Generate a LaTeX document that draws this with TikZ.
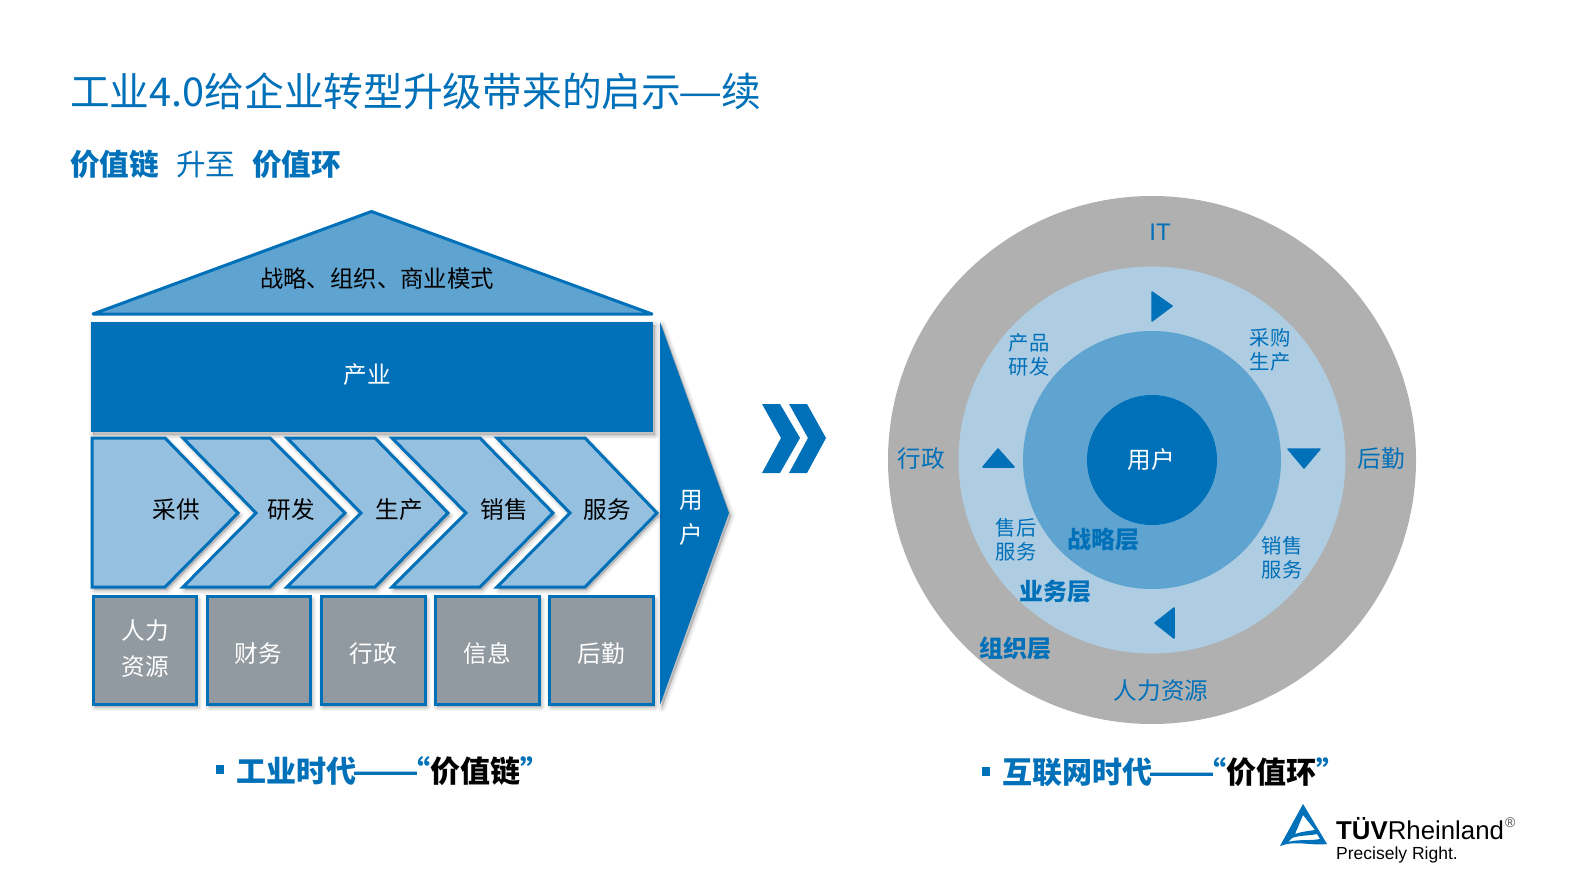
\documentclass[tikz,border=0pt]{standalone}
\usepackage{fontspec}
\usepackage{graphicx}
\setmainfont{Noto Sans CJK SC}
\newfontfamily\lat{Liberation Sans}
\definecolor{tblue}{HTML}{0070B9}
\definecolor{tmid}{HTML}{5FA4D0}
\definecolor{tlight}{HTML}{95C0E0}
\definecolor{tpale}{HTML}{AECDE2}
\definecolor{tgrey}{HTML}{929AA1}
\definecolor{tring}{HTML}{B0B0B0}
\tikzset{
  x=1pt,y=-1pt,
  shadlayer/.style={preaction={draw=black,fill=black,opacity=.045,line width=#1,line join=round,transform canvas={shift={(2pt,-3pt)}}}},
  shad/.style={shadlayer=8pt,shadlayer=5.5pt,shadlayer=3pt,shadlayer=1pt},
  chevronbox/.style={shad,draw=tblue,line width=3pt,fill=tlight,line join=miter,miter limit=3},
  supportbox/.style={shad,draw=tblue,line width=3pt,fill=tgrey},
  lbl/.style={inner sep=0pt,align=center,font=\fontsize{23.6}{36}\selectfont},
  ringlbl/.style={inner sep=0pt,align=center,text=tblue,font=\fontsize{23.6}{29}\selectfont},
  smalllbl/.style={inner sep=0pt,align=center,text=tblue,font=\fontsize{20.3}{24}\selectfont},
  boldlbl/.style={inner sep=0pt,text=tblue,font=\fontsize{24}{28}\selectfont\bfseries},
  tri/.style={fill=tblue,draw=tblue,line width=1.5pt,line join=round},
}
\newcommand{\longdash}[2]{\makebox[#1][c]{\scalebox{#2}[1]{——}}\hspace{-16pt}}
\begin{document}
\begin{tikzpicture}
\useasboundingbox (0,0) rectangle (1587,893);
\fill[white] (0,0) rectangle (1587,893);

\node[anchor=west,inner sep=0pt,text=tblue,font=\fontsize{39.7}{46}\selectfont] (title) at (70,91) {工业4.0给企业转型升级带来的启示\makebox[40pt][c]{\scalebox{1.25}[1]{—}}续};
\node[anchor=west,inner sep=0pt,text=tblue,font=\fontsize{29.6}{34}\selectfont] (sub) at (70,164) {\textbf{价值链}\hspace{17pt}升至\hspace{17pt}\textbf{价值环}};

% left house
\draw[line width=3pt,draw=tblue,fill=tmid,line join=round] (93,314) -- (371.5,211.5) -- (652,314) -- cycle;
\node[lbl] (roof) at (377,278.5) {\fontsize{23.4}{28}\selectfont 战略、组织、商业模式};
\fill[tblue,shad] (91,322) rectangle (653,432);
\node[inner sep=0pt,text=white,font=\fontsize{23.6}{30}\selectfont] (indl) at (367,374.5) {产业};

\fill[tblue,shad] (660,322) -- (729,513) -- (660,705) -- cycle;
\node[inner sep=0pt,text=white,font=\fontsize{23.6}{35}\selectfont,align=center] (user) at (691,518) {用\\户};

\draw[chevronbox] (497,438) -- (585,438) -- (657,513) -- (585,587) -- (497,587) -- (570,513) -- cycle;
\draw[chevronbox] (392,438) -- (480,438) -- (553,513) -- (480,587) -- (392,587) -- (466,513) -- cycle;
\draw[chevronbox] (287,438) -- (375,438) -- (448,513) -- (375,587) -- (287,587) -- (361,513) -- cycle;
\draw[chevronbox] (183,438) -- (270,438) -- (345,513) -- (270,587) -- (183,587) -- (256,513) -- cycle;
\draw[chevronbox] (92,438) -- (165,438) -- (238,513) -- (165,587) -- (92,587) -- cycle;
\node[lbl] (c1) at (176,509.5) {采供};
\node[lbl] (c2) at (291,509.5) {研发};
\node[lbl] (c3) at (399,509.5) {生产};
\node[lbl] (c4) at (504,509.5) {销售};
\node[lbl] (c5) at (607,509.5) {服务};

\draw[supportbox] (93,596.5) rectangle (196,704);
\draw[supportbox] (207,596.5) rectangle (310,704);
\draw[supportbox] (321,596.5) rectangle (425,704);
\draw[supportbox] (435,596.5) rectangle (539,704);
\draw[supportbox] (549,596.5) rectangle (653,704);
\node[lbl,text=white] (s1) at (145,648.5) {人力\\资源};
\node[lbl,text=white] (s2) at (258,653.5) {财务};
\node[lbl,text=white] (s3) at (373,653.5) {行政};
\node[lbl,text=white] (s4) at (487,653.5) {信息};
\node[lbl,text=white] (s5) at (601,653.5) {后勤};

% double chevron
\fill[tblue] (762,404) -- (780,404) -- (800,438) -- (780,473) -- (762,473) -- (781,438) -- cycle;
\fill[tblue] (789,404) -- (807,404) -- (826,438) -- (807,473) -- (789,473) -- (808,438) -- cycle;

% right circles
\coordinate (cc) at (1152,460);
\fill[tring] (cc) circle[radius=264];
\fill[tpale] (cc) circle[radius=193.5];
\fill[tmid] (cc) circle[radius=129];
\fill[tblue] (cc) circle[radius=65];
\node[inner sep=0pt,text=white,font=\fontsize{23.6}{30}\selectfont] (cu) at (1151,459.5) {用户};

\node[ringlbl,font=\lat\fontsize{24}{28}\selectfont] (it) at (1160,232) {IT};
\node[ringlbl] (xz) at (921,459) {行政};
\node[ringlbl] (hq) at (1381,459) {后勤};
\node[ringlbl] (rl) at (1161,690.5) {人力资源};
\node[smalllbl] (cp) at (1029,354.5) {产品\\研发};
\node[smalllbl] (cg) at (1270,350) {采购\\生产};
\node[smalllbl] (sh) at (1016,540) {售后\\服务};
\node[smalllbl] (xs) at (1282,558) {销售\\服务};
\node[boldlbl] (zl) at (1103,540) {战略层};
\node[boldlbl] (yw) at (1055,591.5) {业务层};
\node[boldlbl] (zz) at (1015,648) {组织层};

\draw[tri] (1152,292) -- (1172,306) -- (1152,321) -- cycle;
\draw[tri] (1288,449) -- (1320,449) -- (1304,468) -- cycle;
\draw[tri] (1174,608) -- (1174,638) -- (1155,623) -- cycle;
\draw[tri] (983,467) -- (1014,467) -- (998,449) -- cycle;

% captions
\fill[tblue] (216,765) rectangle (224,774);
\node[anchor=west,inner sep=0pt,text=tblue,font=\fontsize{30}{34}\selectfont\bfseries] (cap1) at (236,771) {工业时代\longdash{60pt}{1.3}“\textcolor{black}{价值链}”};
\fill[tblue] (982,767) rectangle (990,776);
\node[anchor=west,inner sep=0pt,text=tblue,font=\fontsize{30}{34}\selectfont\bfseries] (cap2) at (1002,772) {互联网时代\longdash{60pt}{1.3}“\textcolor{black}{价值环}”};

% logo
\fill[tblue,even odd rule] (1303,804) -- (1280,846) .. controls (1296,840) and (1310,846) .. (1327,844) -- cycle
 (1303,815) -- (1315,830) .. controls (1308,831) and (1300,832) .. (1295,834) -- cycle
 (1292,838) -- (1288,842) .. controls (1298,839) and (1310,841) .. (1320,839) -- (1317,834) .. controls (1308,836) and (1300,835) .. (1292,838) -- cycle;
\node[anchor=west,inner sep=0pt,font=\lat\fontsize{25.8}{28}\selectfont] (tuv) at (1336,829) {\textbf{TÜV}Rheinland};
\node[anchor=west,inner sep=0pt,font=\lat\fontsize{14}{16}\selectfont,text=black!70] (reg) at (1505,823) {®};
\node[anchor=west,inner sep=0pt,font=\lat\fontsize{17.5}{20}\selectfont] (pr) at (1336,855) {Precisely Right.};
\end{tikzpicture}
\end{document}
